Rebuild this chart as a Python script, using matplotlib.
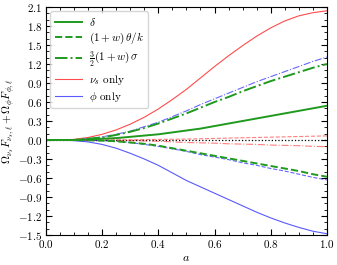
import matplotlib
matplotlib.use("Agg")
import matplotlib.pyplot as plt
import numpy as np
from matplotlib.ticker import MultipleLocator

plt.rcParams['font.family'] = 'serif'
plt.rcParams['font.serif'] = ['cmr10']
plt.rcParams['mathtext.fontset'] = 'cm'
plt.rcParams['axes.formatter.use_mathtext'] = True
plt.rcParams['font.size'] = 8

a = np.linspace(0.0, 1.0, 21)

# total (nu_s + phi)
delta_tot = [0, 0, 0, 0.01, 0.02, 0.03, 0.05, 0.07, 0.09, 0.12, 0.15,
             0.18, 0.22, 0.26, 0.30, 0.34, 0.38, 0.42, 0.46, 0.50, 0.54]
theta_tot = [0, 0, 0, -0.005, -0.01, -0.02, -0.04, -0.06, -0.09, -0.13, -0.17,
             -0.21, -0.25, -0.29, -0.33, -0.37, -0.41, -0.45, -0.49, -0.54, -0.58]
sigma_tot = [0, 0, 0, 0.02, 0.04, 0.08, 0.13, 0.19, 0.26, 0.34, 0.42,
             0.51, 0.60, 0.68, 0.77, 0.85, 0.93, 1.00, 1.07, 1.14, 1.20]

# nu_s only
delta_nu = [0, 0, 0.01, 0.04, 0.09, 0.16, 0.25, 0.36, 0.49, 0.64, 0.80,
            0.98, 1.16, 1.33, 1.49, 1.64, 1.77, 1.88, 1.96, 2.01, 2.04]
theta_nu = [0, 0, 0, 0, 0, 0.002, 0.004, 0.007, 0.01, 0.012, 0.015,
            0.02, 0.025, 0.03, 0.035, 0.04, 0.045, 0.05, 0.055, 0.06, 0.065]
sigma_nu = [0, 0, 0, 0, 0, -0.005, -0.01, -0.015, -0.02, -0.03, -0.04,
            -0.045, -0.05, -0.06, -0.065, -0.07, -0.08, -0.085, -0.09, -0.1, -0.105]

# phi only
delta_phi = [0, 0, -0.01, -0.03, -0.07, -0.13, -0.21, -0.30, -0.40, -0.52, -0.64,
             -0.74, -0.84, -0.94, -1.04, -1.14, -1.23, -1.31, -1.38, -1.44, -1.48]
theta_phi = [0, 0, 0, -0.005, -0.01, -0.02, -0.04, -0.07, -0.10, -0.14, -0.18,
             -0.23, -0.27, -0.31, -0.36, -0.40, -0.45, -0.49, -0.54, -0.59, -0.63]
sigma_phi = [0, 0, 0, 0.02, 0.05, 0.09, 0.14, 0.21, 0.28, 0.37, 0.46,
             0.56, 0.65, 0.74, 0.83, 0.92, 1.00, 1.08, 1.16, 1.24, 1.31]

green = '#1f9a1f'
fig = plt.figure(figsize=(3.37, 2.65), dpi=100)
ax = fig.add_axes([0.1365, 0.1132, 0.8335, 0.8604])

ax.axhline(0, color='k', ls=':', lw=0.9)

ax.plot(a, delta_nu, color='r', lw=0.8, alpha=0.7, label=r'$\nu_s$ only')
ax.plot(a, theta_nu, color='r', lw=0.8, alpha=0.5, ls='--')
ax.plot(a, sigma_nu, color='r', lw=0.8, alpha=0.5, ls='-.')
ax.plot(a, delta_phi, color='b', lw=0.8, alpha=0.65, label=r'$\phi$ only')
ax.plot(a, theta_phi, color='b', lw=0.8, alpha=0.6, ls='--')
ax.plot(a, sigma_phi, color='b', lw=0.8, alpha=0.6, ls='-.')

ax.plot(a, delta_tot, color=green, lw=1.4, label=r'$\delta$')
ax.plot(a, theta_tot, color=green, lw=1.4, ls='--', label=r'$(1+w)\,\theta/k$')
ax.plot(a, sigma_tot, color=green, lw=1.4, ls='-.', label=r'$\frac{3}{2}(1+w)\,\sigma$')

h, l = ax.get_legend_handles_labels()
order = [2, 3, 4, 0, 1]
ax.legend([h[i] for i in order], [l[i] for i in order], loc='upper left',
          fontsize=8, fancybox=True, framealpha=0.8, handlelength=2.4,
          labelspacing=0.3, borderaxespad=0.4, handletextpad=0.7)

ax.set_xlim(0, 1)
ax.set_ylim(-1.5, 2.1)
ax.xaxis.set_major_locator(MultipleLocator(0.2))
ax.xaxis.set_minor_locator(MultipleLocator(0.05))
ax.yaxis.set_major_locator(MultipleLocator(0.3))
ax.yaxis.set_minor_locator(MultipleLocator(0.1))
ax.tick_params(which='both', direction='in', top=True, right=True)
ax.tick_params(which='major', length=4, pad=2.5)
ax.tick_params(which='minor', length=2)
ax.set_xlabel(r'$a$', fontsize=8.5, labelpad=2)
ax.set_ylabel(r'$\Omega_{\nu_s}\bar{F}_{\nu_s,\ell}+\Omega_\phi\bar{F}_{\phi,\ell}$',
              fontsize=8)
ax.yaxis.set_label_coords(-0.103, 0.5)

fig.savefig('out.png', dpi=100)
